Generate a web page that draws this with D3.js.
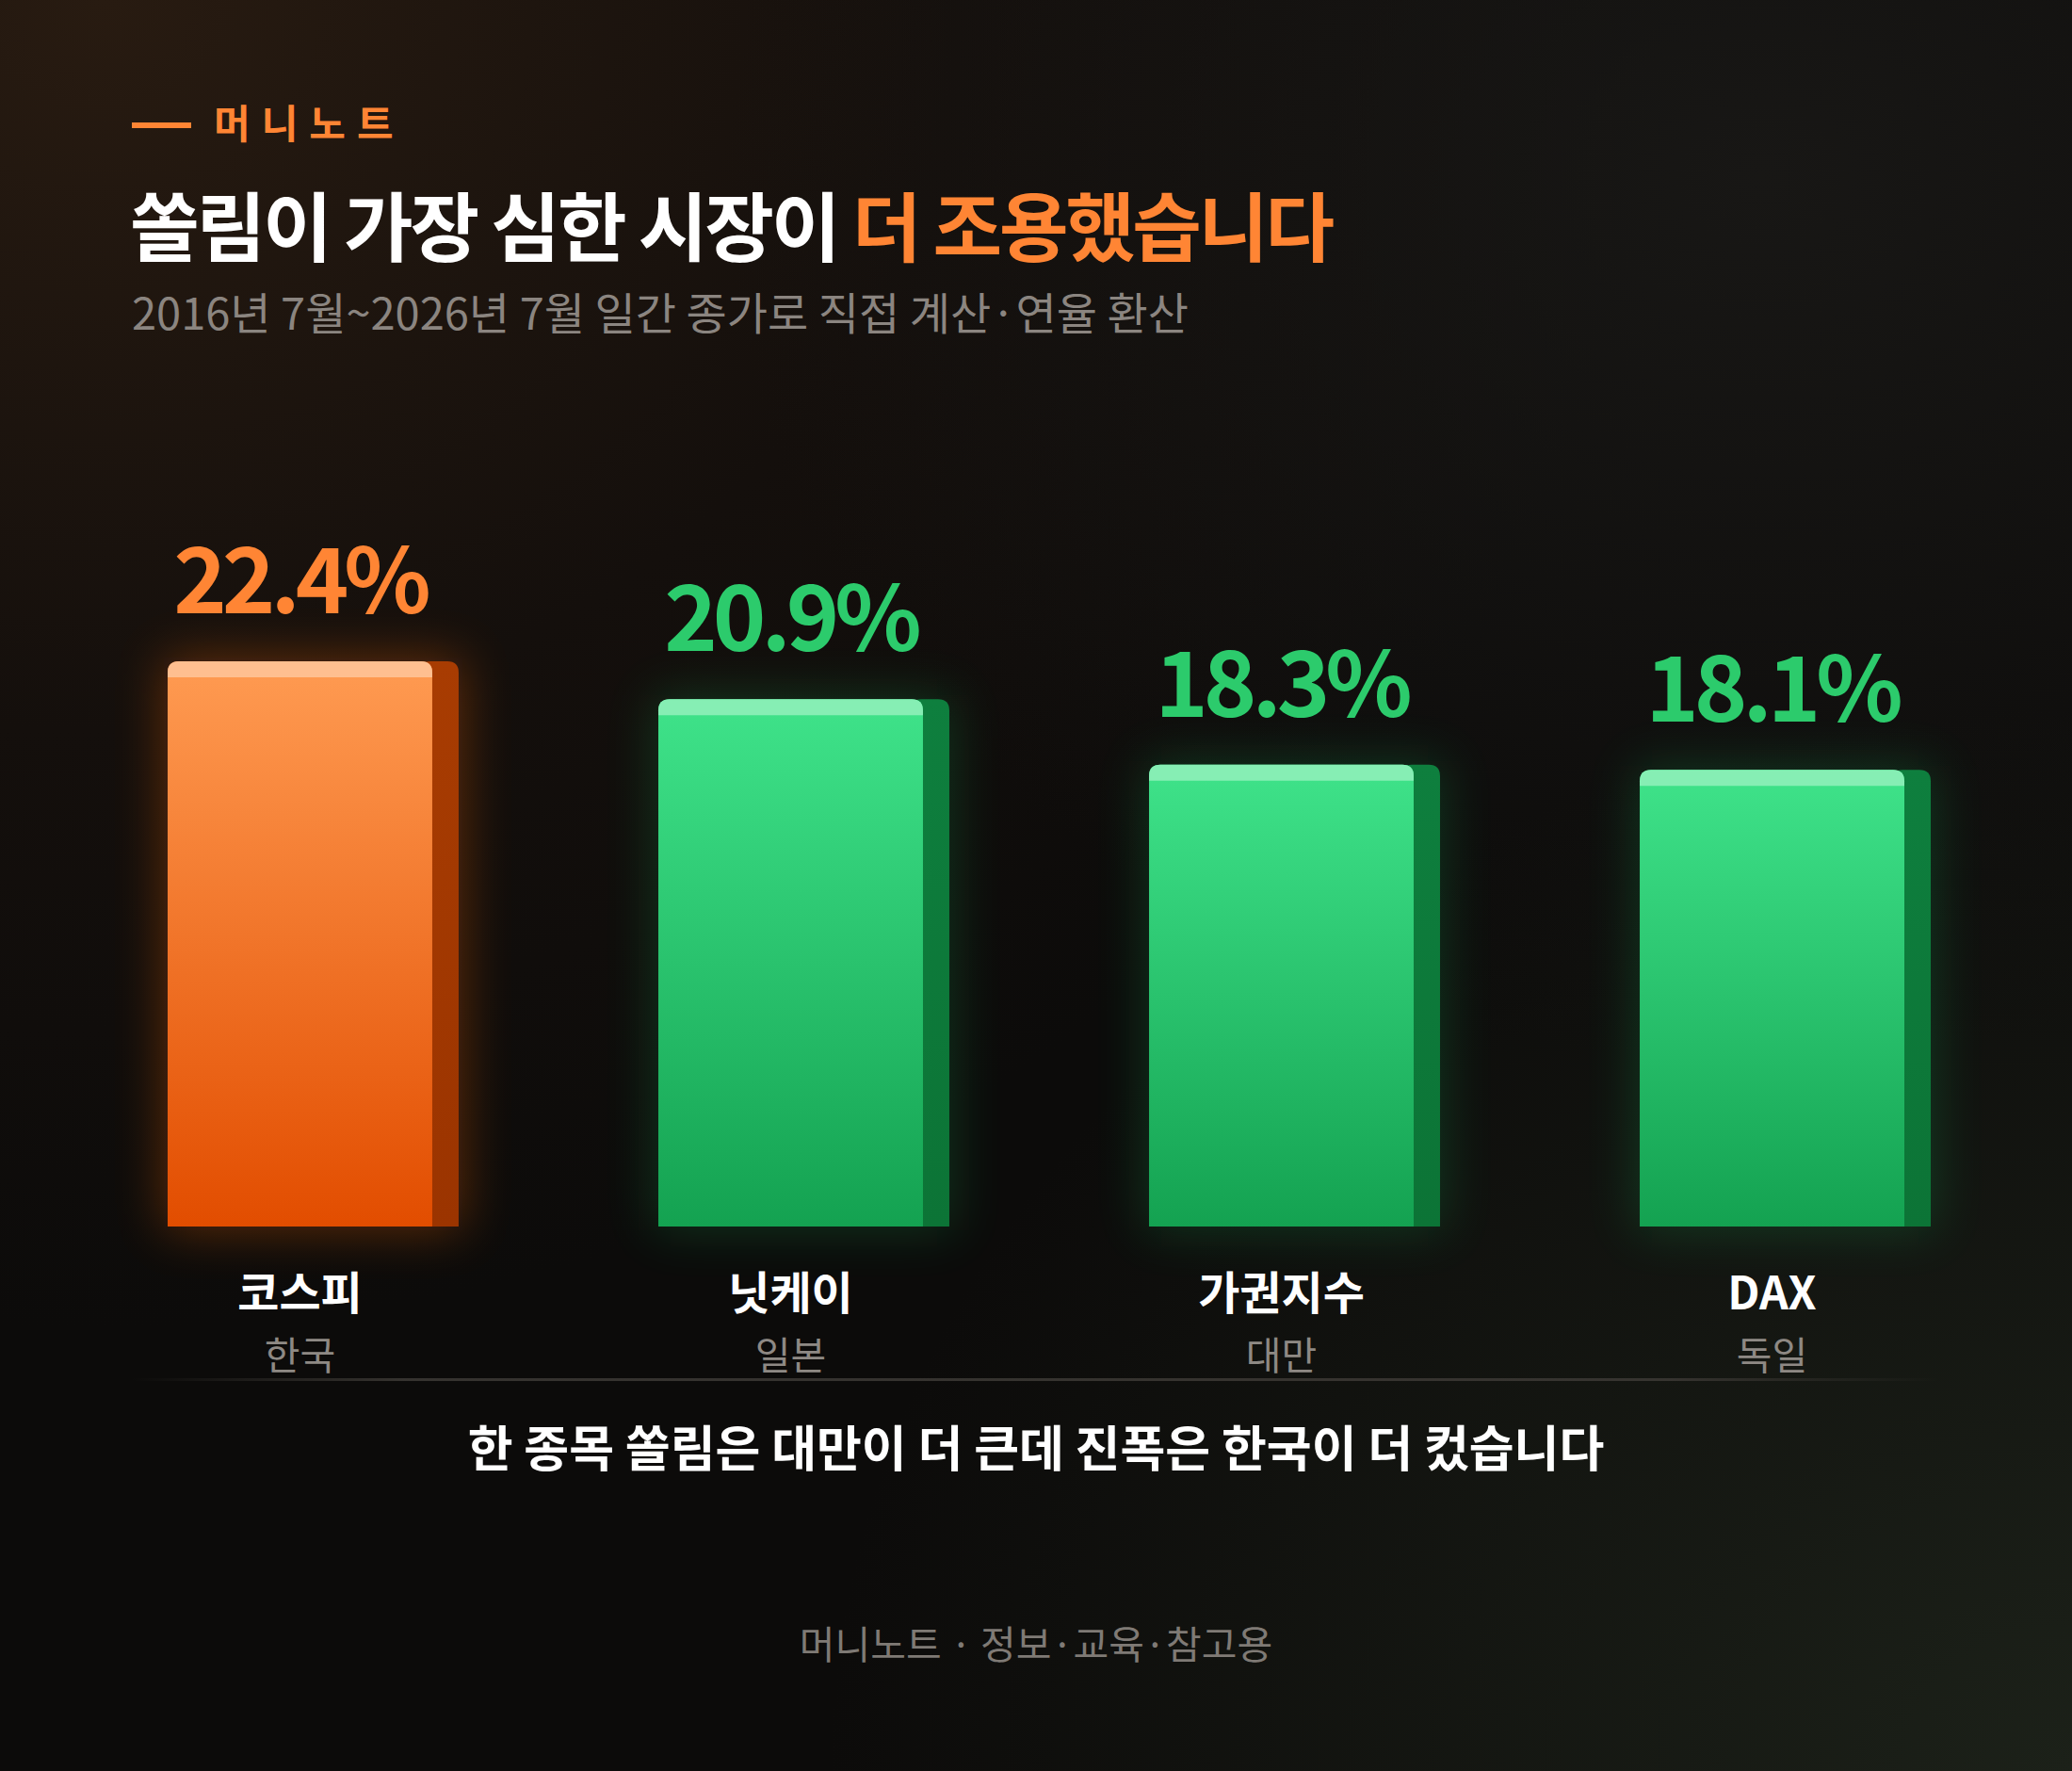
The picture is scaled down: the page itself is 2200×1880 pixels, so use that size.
<!DOCTYPE html>
<html>
<head>
<meta charset="utf-8">
<script src="https://cdn.jsdelivr.net/npm/d3@7"></script>
<style>
  html, body { margin: 0; padding: 0; background: #0c0b0a; }
  svg { display: block; }
</style>
</head>
<body>
<svg id="chart" width="2200" height="1880"></svg>
<script>
// data
const categories = ["코스피", "닛케이", "가권지수", "DAX"];
const countries = ["한국", "일본", "대만", "독일"];
const values = [22.4, 20.9, 18.3, 18.1];
const highlighted = "코스피";

const brand = "머니노트";
const titleWhite = "쏠림이 가장 심한 시장이 ";
const titleOrange = "더 조용했습니다";
const subtitle = "2016년 7월~2026년 7월 일간 종가로 직접 계산·연율 환산";
const caption = "한 종목 쏠림은 대만이 더 큰데 진폭은 한국이 더 컸습니다";
const footer = "머니노트 · 정보·교육·참고용";

const W = 2200, H = 1880;
const KR = "'Noto Sans CJK KR', 'Noto Sans', sans-serif";
const ORANGE = "#ff8534", GREEN = "#2ccb6c";

const svg = d3.select("#chart");
const defs = svg.append("defs");

// background
let bg = defs.append("radialGradient").attr("id", "bgTL")
  .attr("cx", 0.05).attr("cy", 0.0).attr("r", 0.75);
bg.append("stop").attr("offset", 0).attr("stop-color", "#281b11");
bg.append("stop").attr("offset", 0.55).attr("stop-color", "#140f0c");
bg.append("stop").attr("offset", 1).attr("stop-color", "#0c0b0a");
let bg2 = defs.append("radialGradient").attr("id", "bgBR")
  .attr("cx", 1).attr("cy", 1).attr("r", 0.6);
bg2.append("stop").attr("offset", 0).attr("stop-color", "#1c2119").attr("stop-opacity", 1);
bg2.append("stop").attr("offset", 1).attr("stop-color", "#1c2119").attr("stop-opacity", 0);
let bg3 = defs.append("radialGradient").attr("id", "bgTR")
  .attr("cx", 0.85).attr("cy", 0.1).attr("r", 0.5);
bg3.append("stop").attr("offset", 0).attr("stop-color", "#1b1a18").attr("stop-opacity", 0.8);
bg3.append("stop").attr("offset", 1).attr("stop-color", "#1b1a18").attr("stop-opacity", 0);

svg.append("rect").attr("width", W).attr("height", H).attr("fill", "url(#bgTL)");
svg.append("rect").attr("width", W).attr("height", H).attr("fill", "url(#bgTR)");
svg.append("rect").attr("width", W).attr("height", H).attr("fill", "url(#bgBR)");

// bar gradients
function vgrad(id, top, bottom) {
  const g = defs.append("linearGradient").attr("id", id)
    .attr("x1", 0).attr("y1", 0).attr("x2", 0).attr("y2", 1);
  g.append("stop").attr("offset", 0).attr("stop-color", top);
  g.append("stop").attr("offset", 1).attr("stop-color", bottom);
}
vgrad("frontO", "#ff9b52", "#e24d00");
vgrad("frontG", "#3fe38a", "#14a251");
vgrad("sideO", "#a83c02", "#9b3400");
vgrad("sideG", "#0e7f3e", "#0c7436");

defs.append("filter").attr("id", "glow")
  .attr("x", "-50%").attr("y", "-50%").attr("width", "200%").attr("height", "200%")
  .append("feGaussianBlur").attr("stdDeviation", 26);

const baseline = defs.append("linearGradient").attr("id", "baseLine");
baseline.append("stop").attr("offset", 0).attr("stop-color", "#3a3733").attr("stop-opacity", 0);
baseline.append("stop").attr("offset", 0.15).attr("stop-color", "#3a3733").attr("stop-opacity", 0.9);
baseline.append("stop").attr("offset", 0.85).attr("stop-color", "#3a3733").attr("stop-opacity", 0.9);
baseline.append("stop").attr("offset", 1).attr("stop-color", "#3a3733").attr("stop-opacity", 0);

// header
svg.append("line").attr("x1", 140).attr("x2", 203).attr("y1", 133).attr("y2", 133)
  .attr("stroke", ORANGE).attr("stroke-width", 6);
svg.append("text").attr("x", 227).attr("y", 147)
  .attr("font-family", KR).attr("font-weight", 700).attr("font-size", 42)
  .attr("letter-spacing", 12).attr("fill", ORANGE).text(brand);

const title = svg.append("text").attr("x", 138).attr("y", 271)
  .attr("font-family", KR).attr("font-weight", 700).attr("font-size", 80)
  .attr("letter-spacing", -3);
title.append("tspan").attr("fill", "#ffffff").text(titleWhite);
title.append("tspan").attr("fill", ORANGE).text(titleOrange);

svg.append("text").attr("x", 140).attr("y", 350)
  .attr("font-family", KR).attr("font-weight", 400).attr("font-size", 47)
  .attr("letter-spacing", 0).attr("fill", "#8b8580").text(subtitle);

// scales
const x = d3.scaleBand().domain(categories).range([178, 2050])
  .paddingInner(0.407).paddingOuter(0);
const y = d3.scaleLinear().domain([0, d3.max(values)]).range([1302, 702]);

const side = 28, r = 12, cap = 17;
const fw = x.bandwidth() - side;

function topRounded(x0, x1, yt, yb) {
  return `M${x0},${yb}V${yt + r}Q${x0},${yt} ${x0 + r},${yt}H${x1 - r}Q${x1},${yt} ${x1},${yt + r}V${yb}Z`;
}

const rows = categories.map((c, i) => ({ cat: c, country: countries[i], value: values[i] }));
const bars = svg.append("g").selectAll("g").data(rows).join("g");

const isHi = d => d.cat === highlighted;

// glow
bars.append("rect")
  .attr("x", d => x(d.cat) - 4).attr("y", d => y(d.value) - 4)
  .attr("width", x.bandwidth() + 8).attr("height", d => y(0) - y(d.value) + 8)
  .attr("fill", d => isHi(d) ? "#ff6a10" : "#18c060")
  .attr("opacity", d => isHi(d) ? 0.32 : 0.22)
  .attr("filter", "url(#glow)");

// side face
bars.append("path")
  .attr("d", d => topRounded(x(d.cat) + fw - r - 2, x(d.cat) + x.bandwidth(), y(d.value), y(0)))
  .attr("fill", d => isHi(d) ? "url(#sideO)" : "url(#sideG)");

// front face
bars.append("path")
  .attr("d", d => topRounded(x(d.cat), x(d.cat) + fw, y(d.value), y(0)))
  .attr("fill", d => isHi(d) ? "url(#frontO)" : "url(#frontG)");

// top cap highlight
bars.append("path")
  .attr("d", d => topRounded(x(d.cat), x(d.cat) + fw, y(d.value), y(d.value) + cap))
  .attr("fill", d => isHi(d) ? "#ffbf90" : "#86eeb4");

// value labels
bars.append("text")
  .attr("x", d => x(d.cat) + fw / 2).attr("y", d => y(d.value) - 51)
  .attr("text-anchor", "middle")
  .attr("font-family", KR).attr("font-weight", 700).attr("font-size", 96)
  .attr("letter-spacing", -5)
  .attr("fill", d => isHi(d) ? ORANGE : GREEN)
  .text(d => d3.format(".1f")(d.value) + "%");

// category labels
bars.append("text")
  .attr("x", d => x(d.cat) + fw / 2).attr("y", 1390)
  .attr("text-anchor", "middle")
  .attr("font-family", KR).attr("font-weight", 700).attr("font-size", 48)
  .attr("fill", "#ffffff").text(d => d.cat);
bars.append("text")
  .attr("x", d => x(d.cat) + fw / 2).attr("y", 1454)
  .attr("text-anchor", "middle")
  .attr("font-family", KR).attr("font-weight", 400).attr("font-size", 41)
  .attr("fill", "#8e8984").text(d => d.country);

// baseline rule
svg.append("rect").attr("x", 140).attr("y", 1463).attr("width", 1920).attr("height", 3)
  .attr("fill", "url(#baseLine)");

// caption & footer
svg.append("text").attr("x", 1100).attr("y", 1557).attr("text-anchor", "middle")
  .attr("font-family", KR).attr("font-weight", 700).attr("font-size", 52)
  .attr("letter-spacing", 0).attr("fill", "#ffffff").text(caption);
svg.append("text").attr("x", 1100).attr("y", 1761).attr("text-anchor", "middle")
  .attr("font-family", KR).attr("font-weight", 400).attr("font-size", 41)
  .attr("fill", "#7f7a75").text(footer);
</script>
</body>
</html>
